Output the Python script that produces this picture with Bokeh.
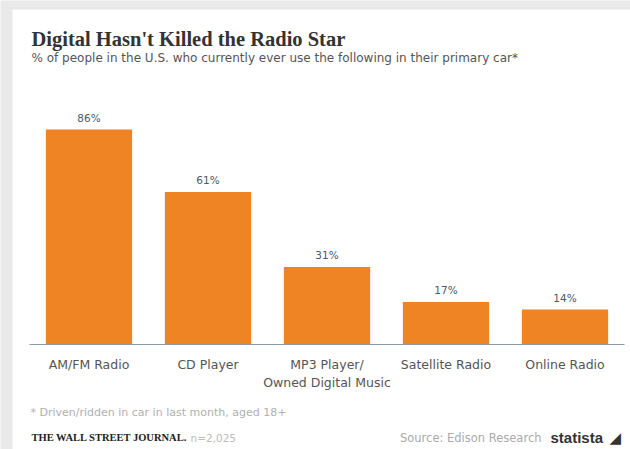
from bokeh.plotting import figure
from bokeh.models import Label, Range1d, ColumnDataSource, BoxAnnotation
from bokeh.core.properties import value
from bokeh.embed import file_html
from bokeh.resources import INLINE

categories = ["AM/FM Radio", "CD Player", "MP3 Player/\nOwned Digital Music", "Satellite Radio", "Online Radio"]
shares = [86, 61, 31, 17, 14]
share_labels = ["86%", "61%", "31%", "17%", "14%"]

title_text = "Digital Hasn't Killed the Radio Star"
subtitle_text = "% of people in the U.S. who currently ever use the following in their primary car*"
footnote_text = "* Driven/ridden in car in last month, aged 18+"
sample_text = "n=2,025"
source_text = "Source: Edison Research"

W, H = 630, 449
# layout (page pixels): first category centre, category step, baseline, px per percent
CX0, STEP, BASE, PPU = 88.5, 119.0, 344.0, 2.5

idx = list(range(len(categories)))

p = figure(width=W, height=H,
           x_range=Range1d(-CX0 / STEP, (W - CX0) / STEP),
           y_range=Range1d(-(H - BASE) / PPU, BASE / PPU),
           output_backend="svg", toolbar_location=None,
           min_border=0)
p.outline_line_color = None
p.background_fill_color = "#e9e9e9"
p.border_fill_color = "#e9e9e9"
p.xgrid.visible = False
p.ygrid.visible = False
p.xaxis.visible = False
p.yaxis.visible = False


def X(px):
    return (px - CX0) / STEP


def Y(py):
    return (BASE - py) / PPU


# white card
p.add_layout(BoxAnnotation(left=X(12), right=X(W), top=Y(9), bottom=Y(H),
                           fill_color="white", fill_alpha=1.0, line_color=None, level="underlay"))

src = ColumnDataSource(dict(x=idx, cat=categories, v=shares, lab=share_labels))
p.vbar(x="x", top="v", width=0.725, source=src, fill_color="#EE8424", line_color=None)
p.text(x="x", y="v", text="lab", source=src, y_offset=-12, text_align="center",
       text_baseline="middle", text_font=value("DejaVu Sans"), text_font_size="10.5px",
       text_color="#4b5a6b")

# baseline
p.segment(x0=[idx[0] - 0.5], x1=[idx[-1] + 0.5], y0=[0], y1=[0], line_color="#8c9bab", line_width=1)

# category labels
p.text(x="x", y=0, text="cat", source=src, y_offset=12, text_align="center",
       text_baseline="top", text_font=value("DejaVu Sans"), text_font_size="12.5px",
       text_color="#555555", text_line_height=1.2)


def add_text(text, px, py, size, color, font="DejaVu Sans", style="normal", align="left"):
    p.add_layout(Label(x=X(px), y=Y(py), text=text, text_font=font, text_font_size=size,
                       text_color=color, text_font_style=style, text_align=align,
                       text_baseline="middle"))


add_text(title_text, 31, 38, "20.5px", "#333333", font="Liberation Serif", style="bold")
add_text(subtitle_text, 31, 57, "12px", "#555555")
add_text(footnote_text, 30, 412, "11px", "#b0b0b0")
add_text("THE WALL STREET JOURNAL.", 31, 437, "10.5px", "#222222", font="Liberation Serif", style="bold")
add_text(sample_text, 190, 437, "10.5px", "#bbbbbb")
add_text(source_text, 541, 437, "11.5px", "#aaaaaa", align="right")
add_text("statista", 550, 437, "15px", "#333333", font="Liberation Sans", style="bold")
add_text("◢", 609, 437, "15px", "#333333")

open("out.html", "w").write(file_html(p, INLINE))
